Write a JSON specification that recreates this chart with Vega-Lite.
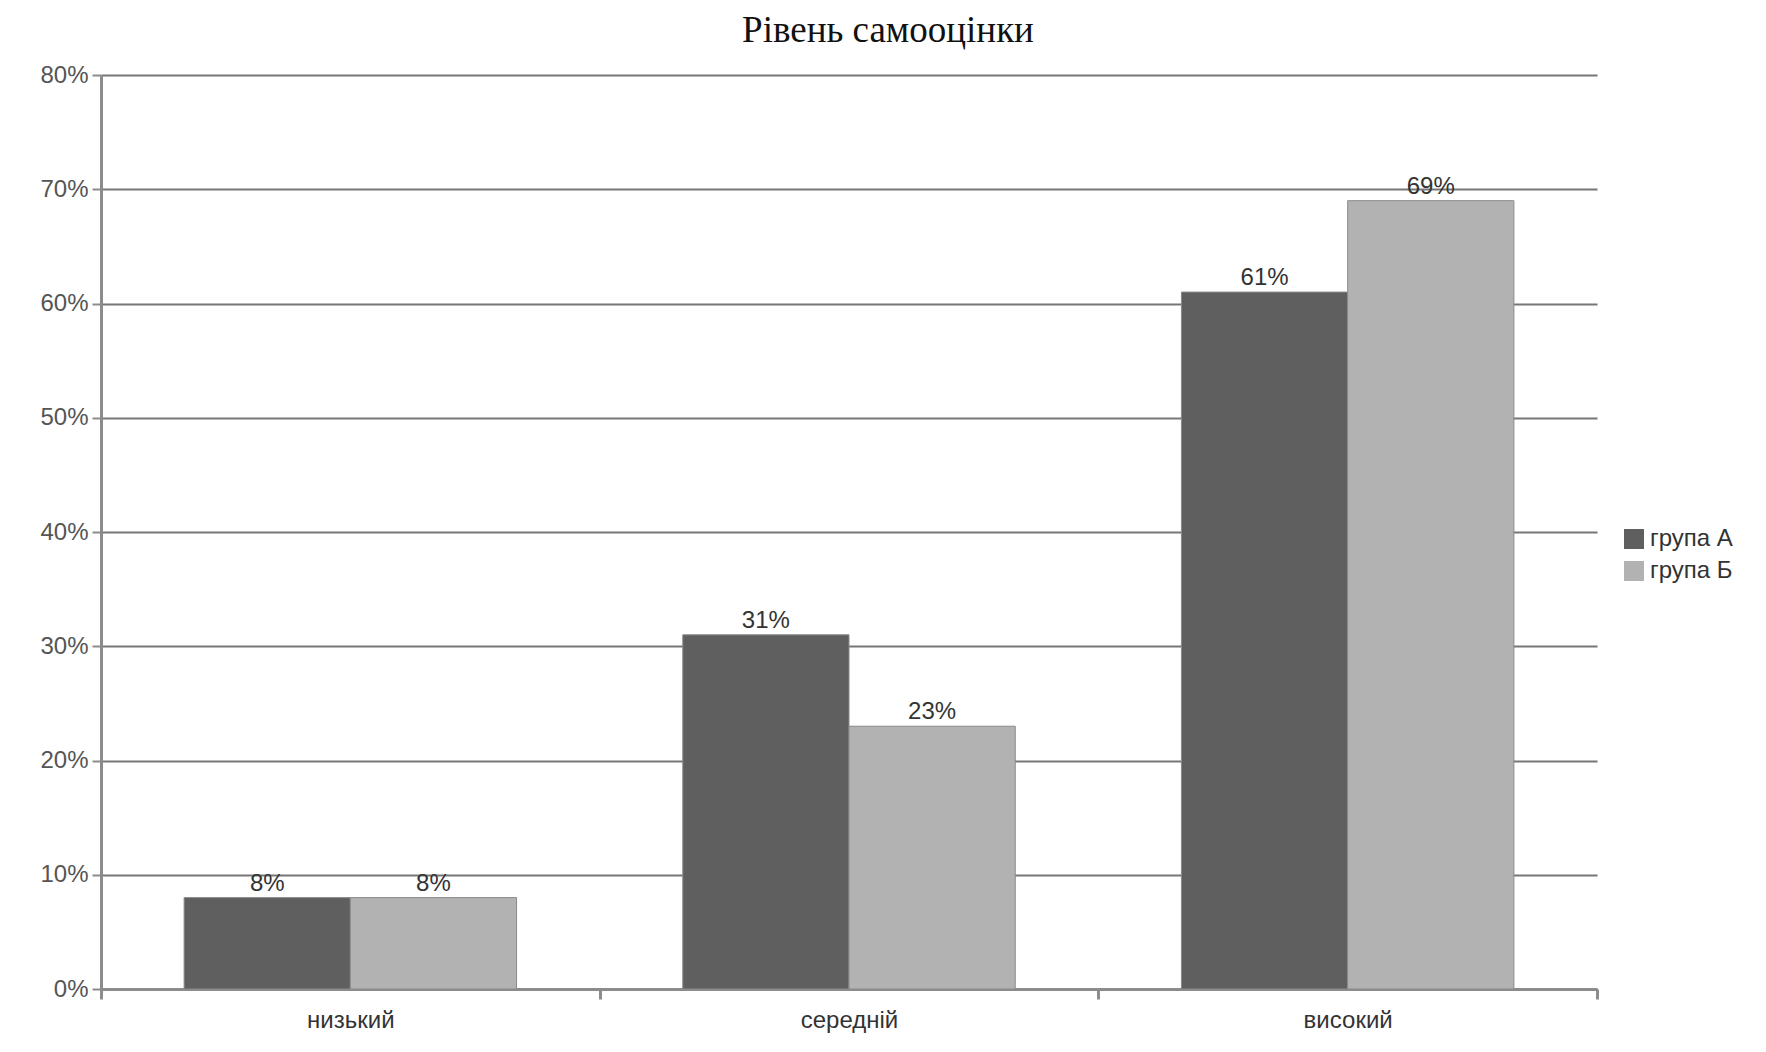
{
  "$schema": "https://vega.github.io/schema/vega-lite/v6.json",
  "width": 1496,
  "height": 914,
  "autosize": {"type": "none"},
  "padding": {"left": 101, "top": 75, "right": 169, "bottom": 63},
  "background": "white",
  "title": {
    "text": "Рівень самооцінки",
    "font": "Liberation Serif",
    "fontSize": 37,
    "fontWeight": "normal",
    "color": "#111111",
    "anchor": "middle",
    "dx": 39,
    "offset": 13
  },
  "data": {
    "values": [
      {"level": "низький", "group": "група А", "value": 0.08},
      {"level": "низький", "group": "група Б", "value": 0.08},
      {"level": "середній", "group": "група А", "value": 0.31},
      {"level": "середній", "group": "група Б", "value": 0.23},
      {"level": "високий", "group": "група А", "value": 0.61},
      {"level": "високий", "group": "група Б", "value": 0.69}
    ]
  },
  "encoding": {
    "x": {
      "field": "level",
      "type": "nominal",
      "sort": ["низький", "середній", "високий"],
      "scale": {"paddingInner": 0, "paddingOuter": 0},
      "axis": {
        "title": null,
        "labelAngle": 0,
        "labelFont": "Liberation Sans",
        "labelFontSize": 24,
        "labelColor": "#333333",
        "labelPadding": 9,
        "domainColor": "#8c8c8c",
        "domainWidth": 3,
        "tickBand": "extent",
        "tickSize": 10,
        "tickColor": "#8c8c8c",
        "tickWidth": 3,
        "grid": false
      }
    },
    "xOffset": {
      "field": "group",
      "type": "nominal",
      "scale": {"paddingInner": 0, "paddingOuter": 0.5}
    },
    "y": {
      "field": "value",
      "type": "quantitative",
      "scale": {"domain": [0, 0.8], "nice": false},
      "axis": {
        "title": null,
        "format": ".0%",
        "values": [0, 0.1, 0.2, 0.3, 0.4, 0.5, 0.6, 0.7, 0.8],
        "labelFont": "Liberation Sans",
        "labelFontSize": 24,
        "labelColor": "#555555",
        "labelPadding": 4,
        "domainColor": "#8c8c8c",
        "domainWidth": 3,
        "tickColor": "#8c8c8c",
        "tickWidth": 2,
        "tickSize": 9,
        "grid": true,
        "gridColor": "#777777",
        "gridWidth": 2
      }
    }
  },
  "layer": [
    {
      "mark": {"type": "bar", "stroke": "#8a8a8a", "strokeWidth": 1},
      "encoding": {
        "color": {
          "field": "group",
          "type": "nominal",
          "scale": {"domain": ["група А", "група Б"], "range": ["#5f5f5f", "#b2b2b2"]},
          "legend": {
            "title": null,
            "orient": "none",
            "legendX": 1521,
            "legendY": 452,
            "symbolType": "square",
            "symbolSize": 400,
            "symbolStrokeWidth": 0,
            "labelFont": "Liberation Sans",
            "labelFontSize": 24,
            "labelColor": "#333333",
            "labelOffset": 4,
            "rowPadding": 8
          }
        }
      }
    },
    {
      "mark": {
        "type": "text",
        "baseline": "alphabetic",
        "dy": -7,
        "font": "Liberation Sans",
        "fontSize": 24,
        "color": "#333333"
      },
      "encoding": {
        "text": {"field": "value", "type": "quantitative", "format": ".0%"}
      }
    }
  ],
  "config": {"view": {"stroke": null}}
}
